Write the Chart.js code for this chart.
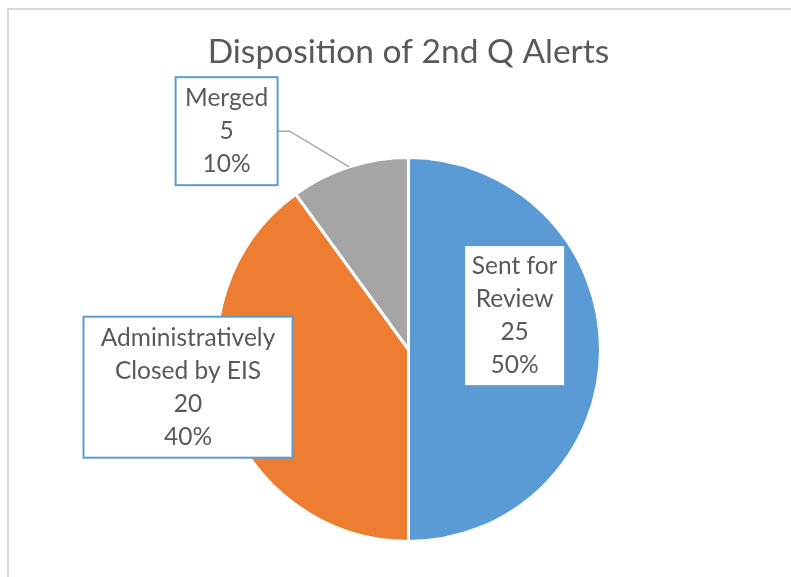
<!DOCTYPE html>
<html>
<head>
<meta charset="utf-8">
<script src="https://cdn.jsdelivr.net/npm/chart.js@4.4.0/dist/chart.umd.min.js"></script>
<style>
	html, body { margin: 0; padding: 0; background: #ffffff; }
	#wrap { width: 791px; height: 577px; }
</style>
</head>
<body>
<div id="wrap"><canvas id="alerts"></canvas></div>
<script>
// Données du graphique.
const categories = [ "Sent for Review", "Administratively Closed by EIS", "Merged" ];
const counts = [ 25, 20, 5 ];
const slice_colors = [ "#5b9bd5", "#ed7d31", "#a5a5a5" ];
const chart_title = "Disposition of 2nd Q Alerts";

// Placement des étiquettes : décalage angulaire (degrés) depuis le milieu de la part,
//	distance relative au rayon, largeur du cadre et trait de rappel.
const label_places = [
	{ turn: -17.7, dist: 0.58, box: 101, leader: false },
	{ turn: 8.3, dist: 1.165, box: 209, leader: false },
	{ turn: -21.8, dist: 1.48, box: 102, leader: true }
];

const text_font = "Lato";
const text_color = "#595959";

//
// Découpe un libellé en lignes selon une largeur maximale.
//
function wrap_text( ctx, text, max_width )
{
	const words = text.split( " " );
	const lines = [];
	let current = "";

	for ( const word of words )
	{
		const test = current ? current + " " + word : word;

		if ( current && ctx.measureText( test ).width > max_width )
		{
			lines.push( current );
			current = word;
		}
		else
		{
			current = test;
		}
	}

	if ( current ) lines.push( current );

	return lines;
}

//
// Cadre gris clair autour de la zone du graphique.
//
const frame_plugin = {
	id: "frame",
	beforeDraw( chart )
	{
		const ctx = chart.ctx;
		ctx.save();
		ctx.fillStyle = "#ffffff";
		ctx.fillRect( 0, 0, chart.width, chart.height );
		ctx.strokeStyle = "#d9d9d9";
		ctx.lineWidth = 2;
		ctx.strokeRect( 8, 9, chart.width + 20, chart.height + 20 );
		ctx.restore();
	}
};

//
// Étiquettes encadrées (catégorie, valeur, pourcentage).
//
const label_plugin = {
	id: "boxed_labels",
	afterDatasetsDraw( chart )
	{
		const ctx = chart.ctx;
		const meta = chart.getDatasetMeta( 0 );
		const total = counts.reduce( ( a, b ) => a + b, 0 );
		const line_height = 33;
		const pad_x = 2;
		const pad_y = 4.5;

		ctx.save();
		ctx.font = "24.5px " + text_font;
		ctx.textAlign = "center";
		ctx.textBaseline = "middle";

		meta.data.forEach( ( arc, i ) =>
		{
			const { x, y, startAngle, endAngle, outerRadius } = arc.getProps( [ "x", "y", "startAngle", "endAngle", "outerRadius" ], true );
			const place = label_places[ i ];
			const mid = ( startAngle + endAngle ) / 2;
			const angle = mid + place.turn * Math.PI / 180;
			const cx = x + Math.cos( angle ) * outerRadius * place.dist;
			const cy = y + Math.sin( angle ) * outerRadius * place.dist;

			const lines = wrap_text( ctx, categories[ i ], place.box - pad_x * 2 );
			lines.push( String( counts[ i ] ) );
			lines.push( Math.round( counts[ i ] / total * 100 ) + "%" );

			const box_w = place.box;
			const box_h = lines.length * line_height + pad_y * 2;
			const left = cx - box_w / 2;
			const top = cy - box_h / 2;

			// Trait de rappel vers le bord de la part.
			if ( place.leader )
			{
				const ex = x + Math.cos( mid ) * outerRadius;
				const ey = y + Math.sin( mid ) * outerRadius;
				ctx.strokeStyle = "#a6a6a6";
				ctx.lineWidth = 1.5;
				ctx.beginPath();
				ctx.moveTo( left + box_w, cy );
				ctx.lineTo( left + box_w + 12, cy );
				ctx.lineTo( ex, ey );
				ctx.stroke();
			}

			ctx.fillStyle = "#ffffff";
			ctx.fillRect( left, top, box_w, box_h );
			ctx.strokeStyle = "#5b9bd5";
			ctx.lineWidth = 2;
			ctx.strokeRect( left, top, box_w, box_h );

			ctx.fillStyle = text_color;
			lines.forEach( ( line, n ) =>
			{
				ctx.fillText( line, cx, top + pad_y + line_height * ( n + 0.5 ) );
			} );
		} );

		ctx.restore();
	}
};

new Chart( document.getElementById( "alerts" ),
	{
		type: "pie",
		data: {
			labels: categories,
			datasets: [
				{
					data: counts,
					backgroundColor: slice_colors,
					borderColor: "#ffffff",
					borderWidth: 3
				}
			]
		},
		options: {
			responsive: true,
			maintainAspectRatio: false,
			animation: false,
			layout: {
				padding: { top: 0, left: 26, right: 0, bottom: 34 }
			},
			plugins: {
				legend: { display: false },
				tooltip: { enabled: false },
				title: {
					display: true,
					text: chart_title,
					color: text_color,
					font: {
						size: 33.5,
						family: text_font,
						weight: "normal"
					},
					padding: { top: 32, bottom: 83.8 }
				}
			}
		},
		plugins: [ frame_plugin, label_plugin ]
	} );
</script>
</body>
</html>
